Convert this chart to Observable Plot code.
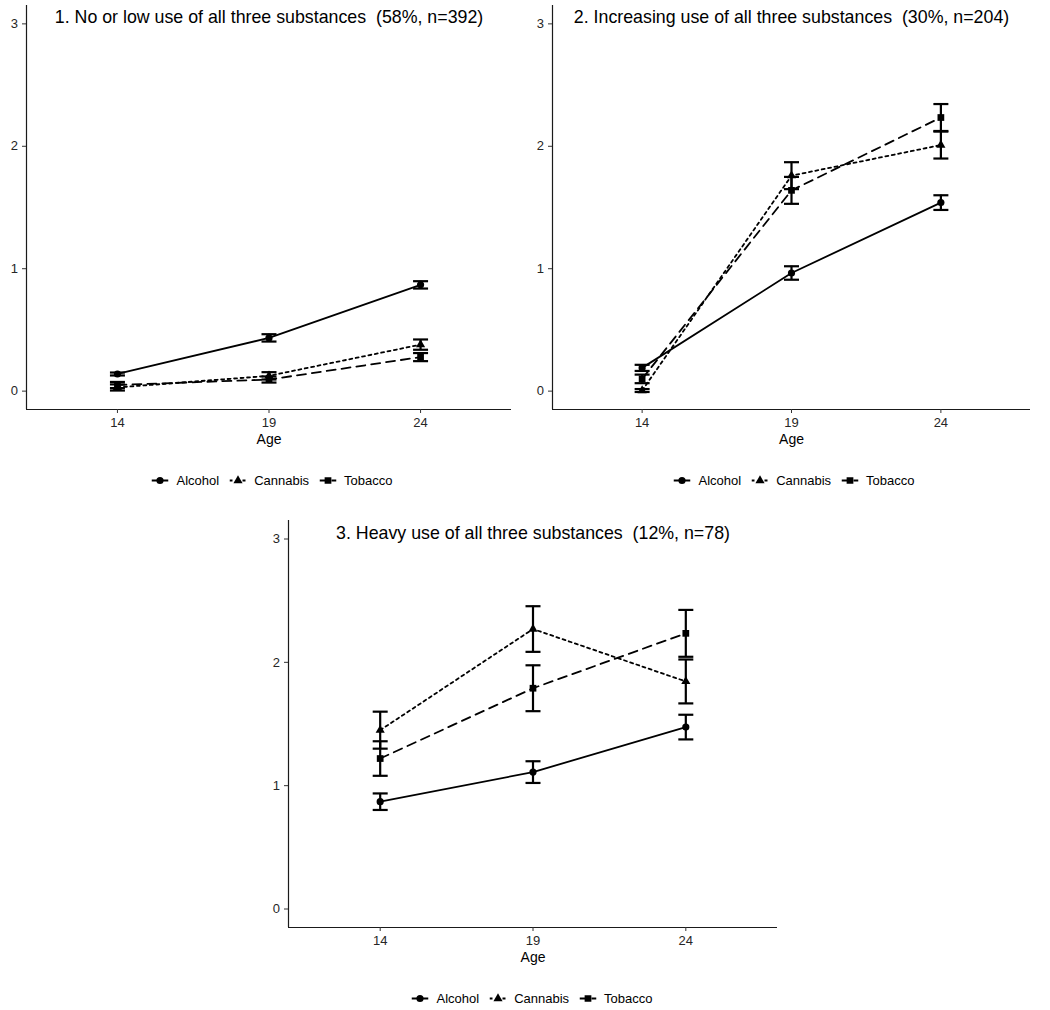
<!DOCTYPE html>
<html><head><meta charset="utf-8">
<script src="https://cdn.jsdelivr.net/npm/d3@7"></script>
<script src="https://cdn.jsdelivr.net/npm/@observablehq/plot@0.6"></script>
<style>
body{margin:0;background:#fff;font-family:"Liberation Sans",Arial,sans-serif;}
#root{position:relative;width:1050px;height:1010px;background:#fff;overflow:hidden;}
.panel{position:absolute;}
.legend{position:absolute;display:flex;align-items:center;font-size:13px;color:#000;white-space:nowrap;transform:translate(-50%,-50%);}
.item{display:flex;align-items:center;margin-right:10px;}
.item:last-child{margin-right:0;}
.item svg{margin-right:8px;display:block;}
</style></head><body><div id="root"></div>
<script>
// ---- data ----
const ages = [14, 19, 24];
const substances = ["Alcohol", "Cannabis", "Tobacco"];
const titles = [
  "1. No or low use of all three substances  (58%, n=392)",
  "2. Increasing use of all three substances  (30%, n=204)",
  "3. Heavy use of all three substances  (12%, n=78)"
];
// means per substance (Alcohol, Cannabis, Tobacco) at ages 14, 19, 24
const meanLow = [[0.14, 0.435, 0.868], [0.03, 0.125, 0.38], [0.05, 0.095, 0.278]];
const errLow = [[0.012, 0.03, 0.03], [0.025, 0.03, 0.042], [0.025, 0.025, 0.033]];
const meanIncreasing = [[0.19, 0.965, 1.54], [0.005, 1.76, 2.01], [0.10, 1.64, 2.235]];
const errIncreasing = [[0.025, 0.055, 0.06], [0.012, 0.11, 0.11], [0.035, 0.11, 0.11]];
const meanHeavy = [[0.87, 1.11, 1.475], [1.45, 2.27, 1.845], [1.22, 1.79, 2.235]];
const errHeavy = [[0.067, 0.088, 0.10], [0.15, 0.185, 0.178], [0.14, 0.186, 0.19]];
const xTicks = [14, 19, 24];
const yTicks = [0, 1, 2, 3];
const xLabel = "Age";

// ---- styles ----
const xDomain = [11, 27];
const yDomain = [-0.15, 3.15];
const dashOf = {Alcohol: null, Cannabis: "3,3.5", Tobacco: "9,6"};
const keyDashOffset = {Alcohol: 0, Cannabis: 0, Tobacco: 3};
const symbolOf = {Alcohol: "circle", Cannabis: "triangle", Tobacco: "square"};
const rOf = {Alcohol: 3.6, Cannabis: 3.4, Tobacco: 3.8};
const d3SymbolOf = {Alcohol: d3.symbolCircle, Cannabis: d3.symbolTriangle, Tobacco: d3.symbolSquare};

const capSymbol = {draw(ctx, size) { const r = Math.sqrt(size / Math.PI); ctx.moveTo(-r, 0); ctx.lineTo(r, 0); }};

function rows(means, errs) {
  const out = [];
  substances.forEach((s, i) => ages.forEach((a, j) => {
    out.push({substance: s, age: a, mean: means[i][j], lo: means[i][j] - errs[i][j], hi: means[i][j] + errs[i][j]});
  }));
  return out;
}

function panel({title, means, errs, left, top, width, height, marginLeft, marginRight, marginTop, marginBottom, titleDy, legendX, legendY}) {
  const data = rows(means, errs);
  const marks = [
    Plot.ruleY([yDomain[0]], {stroke: "#1a1a1a", strokeWidth: 1.2}),
    Plot.ruleX([xDomain[0]], {stroke: "#1a1a1a", strokeWidth: 1.2}),
    Plot.axisX({ticks: xTicks, tickSize: 4, label: null, stroke: "#333", tickFormat: () => ""}),
    Plot.axisY({ticks: yTicks, tickSize: 4, label: null, stroke: "#333", tickFormat: () => ""}),
    Plot.text(xTicks, {x: d => d, frameAnchor: "bottom", dy: 13, lineAnchor: "middle", textAnchor: "middle", fontSize: 13, fill: "#262626"}),
    Plot.text(yTicks, {y: d => d, frameAnchor: "left", dx: -8.5, lineAnchor: "middle", textAnchor: "end", fontSize: 13, fill: "#262626"}),
    Plot.text([xLabel], {frameAnchor: "bottom", dy: 30, lineAnchor: "middle", fontSize: 14, fill: "#000"}),
    Plot.text([title], {frameAnchor: "top", dy: titleDy, lineAnchor: "middle", fontSize: 17.8, fill: "#000"})
  ];
  for (const s of substances) {
    const d = data.filter(r => r.substance === s);
    marks.push(Plot.line(d, {x: "age", y: "mean", stroke: "#000", strokeWidth: 1.8, strokeDasharray: dashOf[s]}));
  }
  marks.push(Plot.ruleX(data, {x: "age", y1: "lo", y2: "hi", stroke: "#000", strokeWidth: 2.2}));
  marks.push(Plot.dot(data, {x: "age", y: "lo", symbol: capSymbol, r: 7.5, stroke: "#000", strokeWidth: 2.2, fill: "none"}));
  marks.push(Plot.dot(data, {x: "age", y: "hi", symbol: capSymbol, r: 7.5, stroke: "#000", strokeWidth: 2.2, fill: "none"}));
  for (const s of substances) {
    const d = data.filter(r => r.substance === s);
    marks.push(Plot.dot(d, {x: "age", y: "mean", symbol: symbolOf[s], r: rOf[s], fill: "#000", stroke: "none"}));
  }
  const chart = Plot.plot({
    width, height, marginLeft, marginRight, marginTop, marginBottom,
    style: {fontFamily: '"Liberation Sans", Arial, sans-serif', fontSize: "13px", background: "#fff", color: "#000", overflow: "visible"},
    x: {domain: xDomain},
    y: {domain: yDomain},
    marks
  });
  const div = document.createElement("div");
  div.className = "panel";
  div.style.left = left + "px";
  div.style.top = top + "px";
  div.appendChild(chart);
  document.getElementById("root").appendChild(div);

  // legend
  const lg = document.createElement("div");
  lg.className = "legend";
  lg.style.left = legendX + "px";
  lg.style.top = legendY + "px";
  for (const s of substances) {
    const it = document.createElement("div");
    it.className = "item";
    const w = 17, h = 12;
    const svg = d3.create("svg").attr("width", w).attr("height", h);
    svg.append("line").attr("x1", 0).attr("x2", w).attr("y1", h / 2).attr("y2", h / 2)
      .attr("stroke", "#000").attr("stroke-width", 1.8).attr("stroke-dasharray", dashOf[s])
      .attr("stroke-dashoffset", keyDashOffset[s]);
    const r = rOf[s];
    svg.append("path").attr("transform", `translate(${w / 2},${h / 2})`)
      .attr("d", d3.symbol(d3SymbolOf[s], r * r * Math.PI)()).attr("fill", "#000");
    it.appendChild(svg.node());
    const t = document.createElement("span");
    t.textContent = s;
    it.appendChild(t);
    lg.appendChild(it);
  }
  document.getElementById("root").appendChild(lg);
}

panel({title: titles[0], means: meanLow, errs: errLow, left: 0, top: 0, width: 520, height: 450,
  marginLeft: 26, marginRight: 9, marginTop: 5, marginBottom: 41, titleDy: 12, legendX: 272, legendY: 480});
panel({title: titles[1], means: meanIncreasing, errs: errIncreasing, left: 520, top: 0, width: 530, height: 450,
  marginLeft: 32, marginRight: 20, marginTop: 5, marginBottom: 41, titleDy: 12, legendX: 794, legendY: 480});
panel({title: titles[2], means: meanHeavy, errs: errHeavy, left: 260, top: 515, width: 530, height: 453,
  marginLeft: 28, marginRight: 13, marginTop: 5, marginBottom: 41, titleDy: 13, legendX: 532, legendY: 998});
</script>
</body></html>
